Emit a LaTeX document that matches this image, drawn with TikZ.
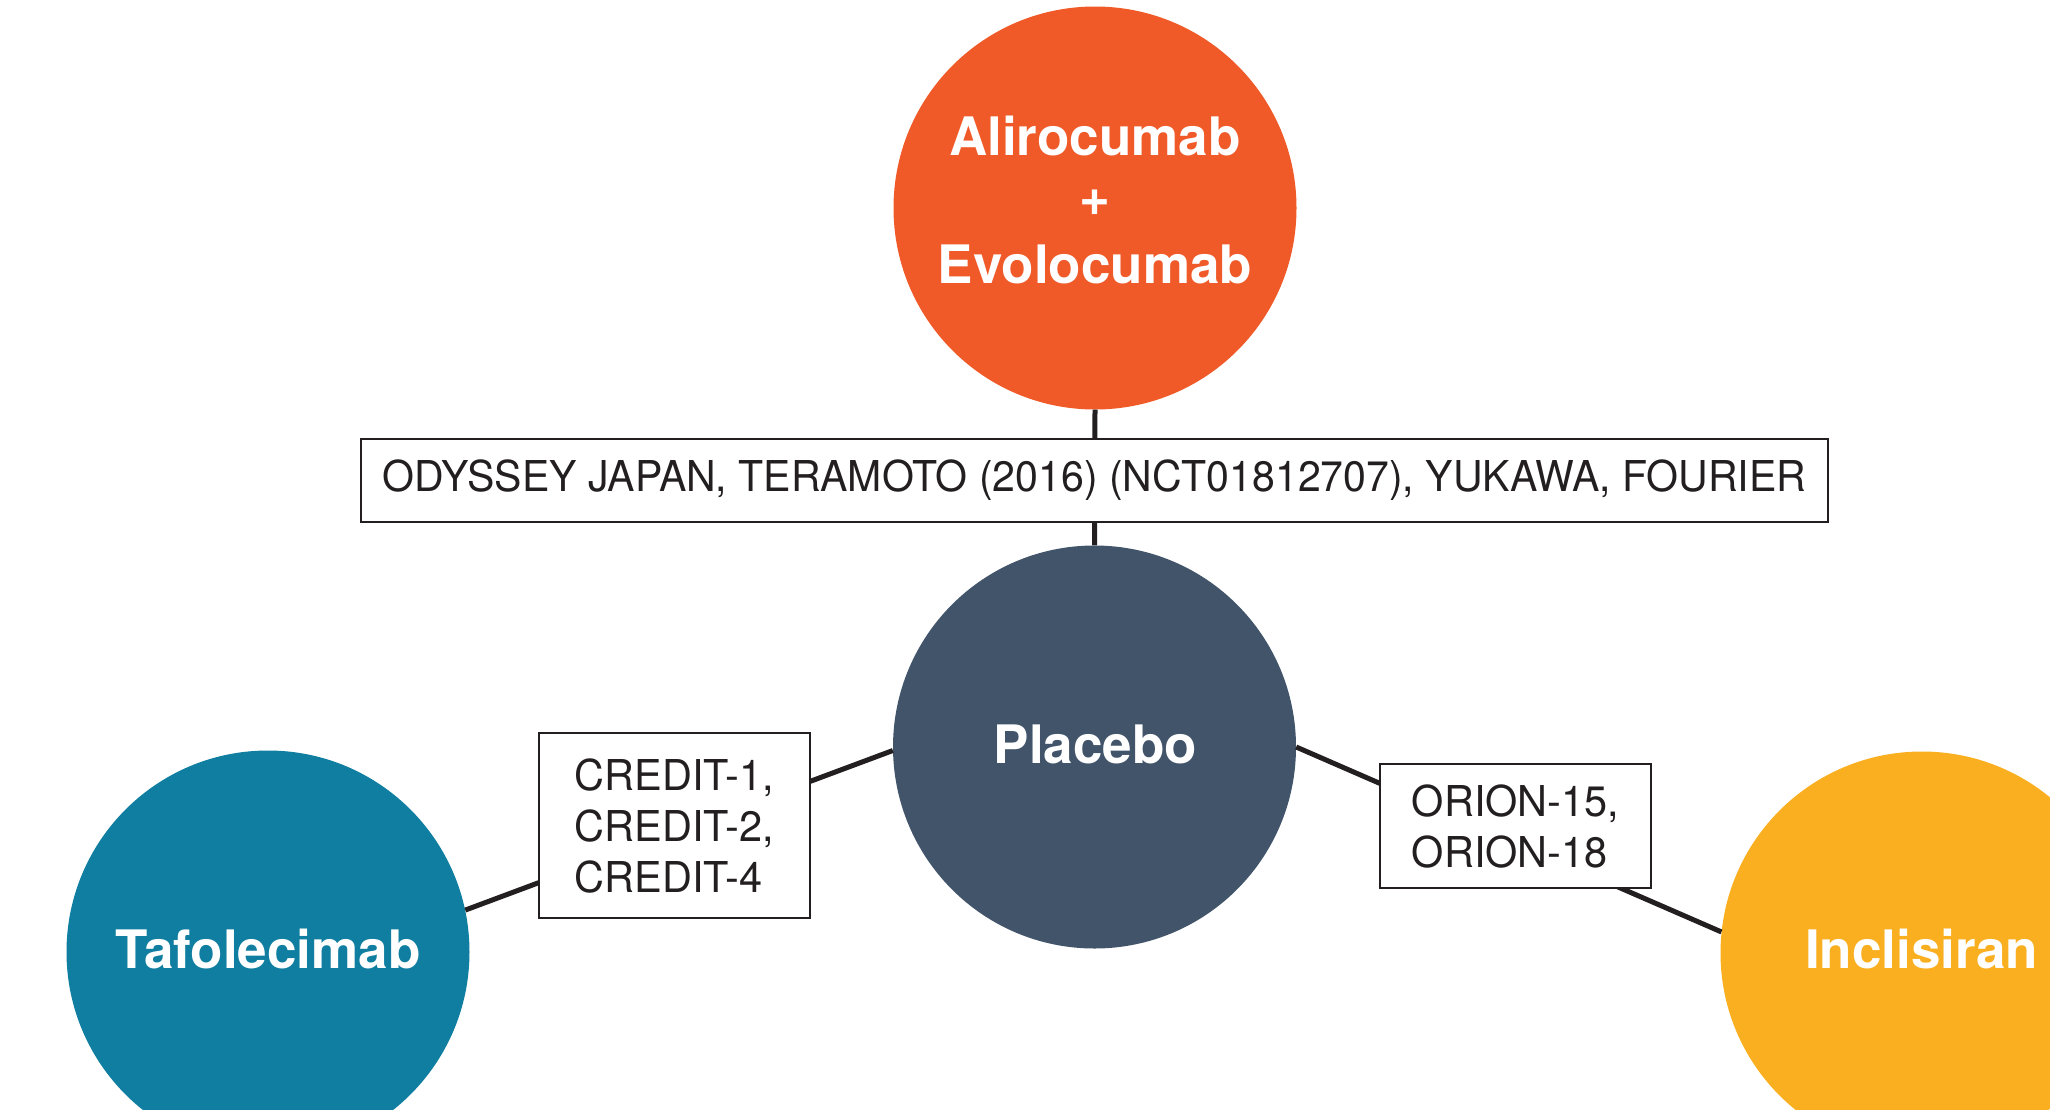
\documentclass[tikz,border=0pt]{standalone}
\usepackage{fontspec}
\setmainfont{TeX Gyre Heros}
\newfontfamily\labfont[FakeStretch=0.975]{TeX Gyre Heros}
\newfontfamily\topfont[FakeStretch=0.965]{TeX Gyre Heros}
\definecolor{orangec}{HTML}{F05A28}
\definecolor{slatec}{HTML}{42546A}
\definecolor{tealc}{HTML}{107EA0}
\definecolor{yellowc}{HTML}{F9AF20}
\definecolor{linec}{HTML}{231F20}
\begin{document}
\begin{tikzpicture}[x=1pt,y=-1pt,
  drug/.style={circle, minimum size=403pt, inner sep=0pt, draw=none},
  drugtext/.style={text=white, font=\bfseries\fontsize{53}{64}\selectfont, align=center, inner sep=0pt},
  trial/.style={draw=linec, line width=2.5pt, fill=white, inner sep=0pt, font=\labfont\fontsize{42.5}{51}\selectfont, text=linec},
  conn/.style={draw=linec, line width=5pt}]
\useasboundingbox (0,0) rectangle (2050,1109);
\clip (0,0) rectangle (2050,1109);
\node[drug, fill=orangec] (alir) at (1095,208) {};
\node[drug, fill=slatec] (plac) at (1094.5,747) {};
\node[drug, fill=tealc] (tafo) at (268,952) {};
\node[drug, fill=yellowc] (incl) at (1922,953) {};
\node[drugtext] (alirt) at (1095,200) {Alirocumab\\\raisebox{4pt}{+}\\Evolocumab};
\node[drugtext] (plact) at (1095.5,744) {Placebo};
\node[drugtext] (tafot) at (268,948.5) {Tafolecimab};
\node[drugtext] (inclt) at (1921.5,949) {Inclisiran};
\draw[conn] (alir.south) -- (plac.north);
\draw[conn] (tafo.12) -- (plac.181);
\draw[conn] (plac.0.5) -- (incl.174);
\node[trial, font=\topfont\fontsize{42.5}{51}\selectfont, minimum width=1467pt, minimum height=83pt] (odys) at (1094.5,480.5) {ODYSSEY JAPAN, TERAMOTO (2016) (NCT01812707), YUKAWA, FOURIER};
\node[trial, minimum width=271pt, minimum height=185pt, align=left] (cred) at (674.5,825.5) {CREDIT-1,\\CREDIT-2,\\CREDIT-4};
\node[trial, minimum width=271pt, minimum height=124pt, align=left] (orion) at (1515.5,826) {ORION-15,\\ORION-18};
\end{tikzpicture}
\end{document}
